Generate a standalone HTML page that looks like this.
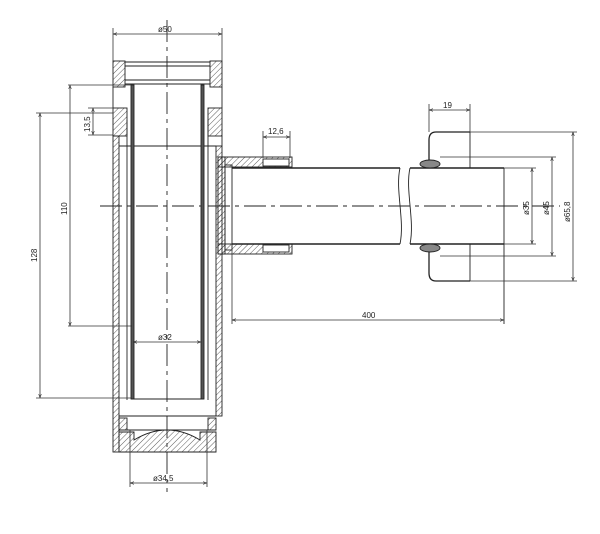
<!DOCTYPE html>
<html><head><style>body{margin:0;background:#fff}svg{display:block}text{font-family:"Liberation Sans",sans-serif;font-size:8px;fill:#222}</style></head>
<body>
<svg width="600" height="534" viewBox="0 0 600 534" xmlns="http://www.w3.org/2000/svg">
<defs>
<pattern id="h" width="4" height="4" patternUnits="userSpaceOnUse" patternTransform="rotate(45)"><line x1="0" y1="0" x2="0" y2="4" stroke="#333" stroke-width="0.8"/></pattern>
<marker id="a" viewBox="0 0 6 6" refX="6" refY="3" markerWidth="5" markerHeight="5" orient="auto-start-reverse"><path d="M0,1 L6,3 L0,5" fill="none" stroke="#333" stroke-width="0.8"/></marker>
</defs>
<g stroke="#222" stroke-width="0.9" fill="none">
<line x1="167" y1="20" x2="167" y2="492" stroke-dasharray="22,5,4,5"/>
<line x1="100" y1="206" x2="560" y2="206" stroke-dasharray="22,5,4,5"/>
<rect x="113" y="61" width="12" height="26" fill="url(#h)"/>
<rect x="210" y="61" width="12" height="26" fill="url(#h)"/>
<line x1="125" y1="62" x2="210" y2="62"/><line x1="125" y1="66" x2="210" y2="66"/>
<line x1="125" y1="80" x2="210" y2="80"/><line x1="125" y1="84" x2="210" y2="84"/>
<rect x="113" y="108" width="14" height="28" fill="url(#h)"/>
<rect x="208" y="108" width="14" height="28" fill="url(#h)"/>
<line x1="113" y1="87" x2="113" y2="108"/><line x1="222" y1="87" x2="222" y2="108"/>
<line x1="222" y1="136" x2="222" y2="146"/>
<rect x="113" y="136" width="6" height="316" fill="url(#h)"/>
<rect x="216" y="146" width="6" height="270" fill="url(#h)"/>
<line x1="119" y1="146" x2="216" y2="146"/>
<rect x="131" y="85" width="3" height="314" fill="#555"/>
<rect x="201" y="85" width="3" height="314" fill="#555"/>
<line x1="131" y1="399" x2="204" y2="399"/>
<line x1="127" y1="120" x2="127" y2="400"/><line x1="208" y1="120" x2="208" y2="400"/>
<rect x="218" y="157" width="74" height="10" fill="url(#h)"/>
<rect x="218" y="244" width="74" height="10" fill="url(#h)"/>
<rect x="218" y="157" width="7" height="97" fill="url(#h)"/>
<rect x="225" y="165" width="7" height="85"/>
<rect x="263" y="159" width="26" height="7" fill="#fff"/><rect x="263" y="245" width="26" height="7" fill="#fff"/>
<line x1="232" y1="168" x2="400" y2="168" stroke-width="1.6"/><line x1="410" y1="168" x2="504" y2="168" stroke-width="1.6"/>
<line x1="232" y1="244" x2="400" y2="244" stroke-width="1.6"/><line x1="410" y1="244" x2="504" y2="244" stroke-width="1.6"/>
<line x1="504" y1="168" x2="504" y2="324"/>
<path d="M400,168 C395,190 405,220 400,244 M410,168 C405,190 415,220 410,244"/>
<path d="M470,132 L436,132 Q429,132 429,140 L429,162" stroke-width="1.3"/>
<path d="M470,281 L436,281 Q429,281 429,273 L429,250" stroke-width="1.3"/>
<line x1="470" y1="132" x2="470" y2="168"/><line x1="470" y1="244" x2="470" y2="281"/>
<ellipse cx="430" cy="164" rx="10" ry="4" fill="#888"/><ellipse cx="430" cy="248" rx="10" ry="4" fill="#888"/>
<path d="M119,416 L216,416 M119,430 L216,430"/>
<path d="M119,452 L216,452 L216,432 L200,432 L200,440 Q167,420 134,440 L134,432 L119,432 Z" fill="url(#h)"/>
<rect x="119" y="418" width="8" height="12" fill="url(#h)"/><rect x="208" y="418" width="8" height="12" fill="url(#h)"/>
</g>
<g stroke="#333" stroke-width="0.8" fill="none">
<line x1="113" y1="28" x2="113" y2="61"/><line x1="222" y1="28" x2="222" y2="61"/>
<line x1="113" y1="34" x2="222" y2="34" marker-start="url(#a)" marker-end="url(#a)"/>
<line x1="68" y1="85" x2="132" y2="85"/><line x1="68" y1="326" x2="132" y2="326"/>
<line x1="70" y1="85" x2="70" y2="326" marker-start="url(#a)" marker-end="url(#a)"/>
<line x1="36" y1="113" x2="113" y2="113"/><line x1="36" y1="398" x2="131" y2="398"/>
<line x1="40" y1="113" x2="40" y2="398" marker-start="url(#a)" marker-end="url(#a)"/>
<line x1="88" y1="108" x2="113" y2="108"/><line x1="88" y1="135" x2="113" y2="135"/>
<line x1="93" y1="108" x2="93" y2="135" marker-start="url(#a)" marker-end="url(#a)"/>
<line x1="263" y1="131" x2="263" y2="158"/><line x1="290" y1="131" x2="290" y2="158"/>
<line x1="263" y1="137" x2="290" y2="137" marker-start="url(#a)" marker-end="url(#a)"/>
<line x1="429" y1="104" x2="429" y2="132"/><line x1="470" y1="104" x2="470" y2="132"/>
<line x1="429" y1="110" x2="470" y2="110" marker-start="url(#a)" marker-end="url(#a)"/>
<line x1="504" y1="168" x2="536" y2="168"/><line x1="504" y1="244" x2="536" y2="244"/>
<line x1="532" y1="168" x2="532" y2="244" marker-start="url(#a)" marker-end="url(#a)"/>
<line x1="440" y1="157" x2="556" y2="157"/><line x1="440" y1="256" x2="556" y2="256"/>
<line x1="552" y1="157" x2="552" y2="256" marker-start="url(#a)" marker-end="url(#a)"/>
<line x1="470" y1="132" x2="577" y2="132"/><line x1="470" y1="281" x2="577" y2="281"/>
<line x1="573" y1="132" x2="573" y2="281" marker-start="url(#a)" marker-end="url(#a)"/>
<line x1="232" y1="250" x2="232" y2="324"/>
<line x1="232" y1="320" x2="504" y2="320" marker-start="url(#a)" marker-end="url(#a)"/>
<line x1="133" y1="342" x2="201" y2="342" marker-start="url(#a)" marker-end="url(#a)"/>
<line x1="130" y1="430" x2="130" y2="487"/><line x1="207" y1="430" x2="207" y2="487"/>
<line x1="130" y1="483" x2="207" y2="483" marker-start="url(#a)" marker-end="url(#a)"/>
</g>
<text x="158" y="32">ø50</text>
<text x="158" y="340">ø32</text>
<text x="153" y="481">ø34,5</text>
<text x="268" y="134">12,6</text>
<text x="443" y="108">19</text>
<text x="362" y="318">400</text>
<text transform="translate(67,215) rotate(-90)">110</text>
<text transform="translate(37,262) rotate(-90)">128</text>
<text transform="translate(90,132) rotate(-90)">13,5</text>
<text transform="translate(529,215) rotate(-90)">ø35</text>
<text transform="translate(549,215) rotate(-90)">ø45</text>
<text transform="translate(570,222) rotate(-90)">ø65,8</text>
</svg>
</body></html>
